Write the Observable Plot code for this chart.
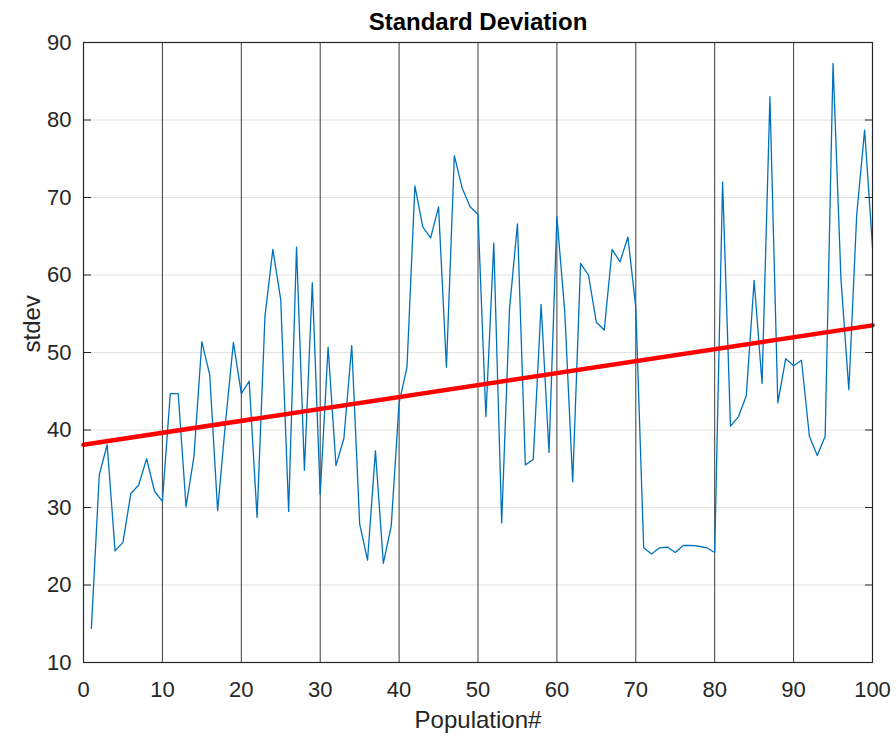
<!DOCTYPE html>
<html><head><meta charset="utf-8">
<script src="https://cdn.jsdelivr.net/npm/d3@7"></script>
<script src="https://cdn.jsdelivr.net/npm/@observablehq/plot@0.6"></script>
<style>html,body{margin:0;padding:0;background:#fff;} svg{display:block;}</style>
</head><body><div id="chart"></div>
<script>
const titleText = "Standard Deviation";
const xLabelText = "Population#";
const yLabelText = "stdev";

// stdev for population # 1..100
const stdev = [
  14.4, 34.2, 38.1, 24.4, 25.5, 31.8, 32.9, 36.3, 32.1, 30.8,
  44.7, 44.7, 30.1, 36.6, 51.4, 47.1, 29.6, 41.0, 51.3, 44.7,
  46.3, 28.7, 54.7, 63.3, 56.8, 29.5, 63.6, 34.8, 59.0, 31.7,
  50.7, 35.4, 38.9, 50.9, 27.9, 23.2, 37.3, 22.8, 27.6, 43.5,
  48.1, 71.5, 66.2, 64.8, 68.8, 48.1, 75.4, 71.2, 68.8, 67.8,
  41.7, 64.1, 28.0, 55.7, 66.6, 35.5, 36.2, 56.2, 37.1, 67.5,
  55.2, 33.3, 61.5, 60.0, 53.9, 52.9, 63.3, 61.7, 64.9, 55.8,
  24.8, 24.0, 24.8, 24.9, 24.2, 25.1, 25.1, 25.0, 24.8, 24.2,
  72.0, 40.5, 41.7, 44.4, 59.3, 46.0, 83.0, 43.5, 49.2, 48.3,
  49.0, 39.2, 36.7, 39.2, 87.3, 59.5, 45.2, 67.8, 78.7, 63.6
];

// red trend line end points
const fitX = [0, 100];
const fitY = [38.1, 53.5];

const xTicks = [0, 10, 20, 30, 40, 50, 60, 70, 80, 90, 100];
const yTicks = [10, 20, 30, 40, 50, 60, 70, 80, 90];

const data = stdev.map((v, i) => ({population: i + 1, stdev: v}));
const fit = fitX.map((x, i) => ({x, y: fitY[i]}));

const chart = Plot.plot({
  width: 896,
  height: 738,
  marginLeft: 83,
  marginRight: 24,
  marginTop: 42,
  marginBottom: 76,
  style: {fontFamily: "'Liberation Sans', Arial, Helvetica, sans-serif", background: "#ffffff", color: "#262626"},
  x: {domain: [0, 100]},
  y: {domain: [10, 90]},
  marks: [
    Plot.ruleY(yTicks.slice(1, -1), {stroke: "#e2e2e2", strokeWidth: 1}),
    Plot.ruleX(xTicks.slice(1, -1), {stroke: "#3c3c3c", strokeWidth: 1}),
    Plot.line(data, {x: "population", y: "stdev", stroke: "#0072BD", strokeWidth: 1.3}),
    Plot.line(fit, {x: "x", y: "y", stroke: "#ff0000", strokeWidth: 4.5}),
    Plot.axisX({ticks: xTicks, tickSize: 0, tickPadding: 19, fontSize: 22, label: null, tickFormat: d => String(d)}),
    Plot.axisY({ticks: yTicks, tickSize: 0, tickPadding: 12, fontSize: 22, label: null, tickFormat: d => String(d)}),
    Plot.axisY({ticks: yTicks, anchor: "left", tickSize: -8, tickFormat: () => "", label: null}),
    Plot.axisY({ticks: yTicks, anchor: "right", tickSize: -8, tickFormat: () => "", label: null}),
    Plot.frame({stroke: "#262626", strokeWidth: 1.2}),
    Plot.text([titleText], {text: d => d, frameAnchor: "top", dy: -13, lineAnchor: "bottom", fontSize: 24, fontWeight: "bold", fill: "#000000"}),
    Plot.text([xLabelText], {text: d => d, frameAnchor: "bottom", dy: 65, lineAnchor: "bottom", fontSize: 24, fill: "#262626"}),
    Plot.text([yLabelText], {text: d => d, frameAnchor: "left", dx: -44, rotate: -90, lineAnchor: "bottom", fontSize: 24, fill: "#262626"})
  ]
});
document.getElementById("chart").appendChild(chart);
</script>
</body></html>
